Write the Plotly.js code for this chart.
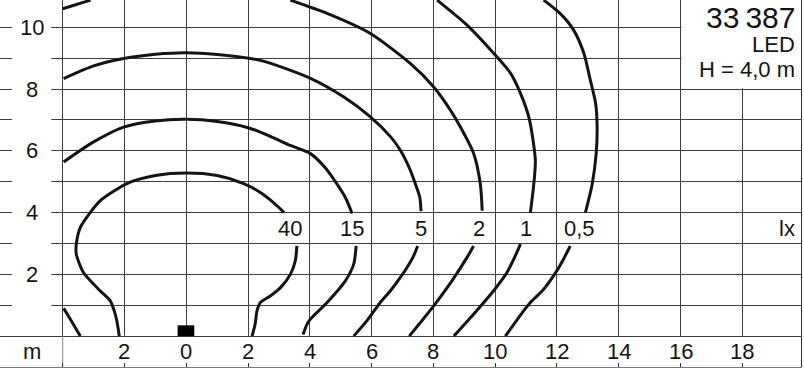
<!DOCTYPE html>
<html><head><meta charset="utf-8">
<script src="https://cdn.plot.ly/plotly-3.0.1.min.js"></script>
<style>html,body{margin:0;padding:0;background:#fff;overflow:hidden}</style>
</head><body><div id="chart" style="width:804px;height:368px;"></div>
<script>
// Isolux curves (x, y in metres); null = break (label gap / leaves chart)
const lux40X = [-2.17,-2.23,-2.30,-2.46,-2.79,-3.33,-3.56,-3.56,-3.43,-3.11,-2.79,-1.92,-1.0,0,1.0,1.86,2.40,2.85,3.17,null,3.58,3.53,3.37,3.05,2.72,2.40,2.29,2.23,2.13];
const lux40Y = [0.0,0.39,0.71,1.14,1.47,2.06,2.65,2.98,3.52,4.0,4.38,4.94,5.2,5.28,5.2,4.94,4.65,4.3,4.0,null,2.92,2.44,2.0,1.57,1.30,1.09,0.82,0.39,0.0];
const lux15X = [-3.97,-3.70,-3.43,null,-3.97,-3.0,-2.03,-1.0,0,1.0,2.0,2.72,3.3,4.02,4.5,4.88,5.15,5.37,null,5.5,5.42,5.15,4.56,4.02,3.91,3.78];
const lux15Y = [0.9,0.46,0.0,null,5.64,6.29,6.77,6.97,7.02,6.95,6.75,6.47,6.2,5.91,5.45,4.92,4.49,3.97,null,2.92,2.33,1.79,1.09,0.55,0.39,0.05];
const lux5X = [-3.97,-3.0,-2.03,-1.0,0,1.0,2.4,4.02,5.09,5.96,6.61,6.93,7.25,7.42,7.56,7.6,null,7.49,7.36,7.15,6.93,6.61,6.28,5.85,5.42];
const lux5Y = [8.34,8.75,8.99,9.13,9.18,9.12,8.93,8.35,7.75,7.1,6.46,6.02,5.38,4.92,4.49,4.05,null,2.92,2.6,2.23,1.9,1.47,1.09,0.5,0.0];
const lux2X = [-4.0,-3.1,null,3.37,4.56,5.96,7.25,8.01,8.55,8.87,9.3,9.52,9.58,null,9.3,9.09,8.6,8.01,7.58,7.22];
const lux2Y = [10.6,10.88,null,10.88,10.45,9.8,8.83,8.07,7.32,6.78,5.92,4.92,4.06,null,2.92,2.55,1.79,0.98,0.44,0.0];
const lux1X = [8.12,9.09,9.95,10.5,10.82,11.1,11.3,11.25,11.14,null,10.82,10.6,10.38,9.95,9.3,8.66];
const lux1Y = [10.88,10.07,9.16,8.51,7.86,7.05,5.7,4.92,4.0,null,2.98,2.49,2.06,1.47,0.71,0.0];
const lux05X = [11.57,12.1,12.54,12.87,13.08,13.25,13.3,13.27,13.14,12.92,null,12.43,12.21,12.0,11.57,11.14,10.92,10.33];
const lux05Y = [10.88,10.45,9.91,9.16,8.29,7.54,6.78,5.92,4.92,4.0,null,2.92,2.49,2.12,1.52,1.09,0.82,0.0];

const curveLabels = ["40","15","5","2","1","0,5"];
const curveLabelX = [3.37,5.36,7.61,9.46,11.0,12.73];
const unitLabel = "lx";

const xTickVals = [-2,0,2,4,6,8,10,12,14,16,18];
const xTickText = ["2","0","2","4","6","8","10","12","14","16","18"];
const yTickVals = [2,4,6,8,10];
const yTickText = ["2","4","6","8","10"];
const xUnit = "m";

const lampPos = [0];
const infoLines = ["33\u2009387","LED","H = 4,0 m"];

const FONT = "Liberation Sans, Arial, Helvetica, sans-serif";
const INK = "#141414";
const GRID = "#3e3e3e";

const curves = [[lux40X,lux40Y],[lux15X,lux15Y],[lux5X,lux5Y],[lux2X,lux2Y],[lux1X,lux1Y],[lux05X,lux05Y]];
const data = curves.map(c => ({
  x: c[0], y: c[1], type: "scatter", mode: "lines", connectgaps: false,
  line: {color: INK, width: 3, shape: "spline", smoothing: 0.7},
  hoverinfo: "skip", showlegend: false
}));

const X0 = -6.03, X1 = 19.9, Y0 = -1.0, Y1 = 10.885;
const labelRowY = 3.48, xLabelY = -0.5, yLabelX = -5.0;

const annotations = [];
curveLabels.forEach((t,i) => annotations.push({x: curveLabelX[i], y: labelRowY, text: t}));
annotations.push({x: 19.78, y: labelRowY, text: unitLabel, xanchor: "right"});
xTickVals.forEach((v,i) => annotations.push({x: v, y: xLabelY, text: xTickText[i]}));
annotations.push({x: yLabelX, y: xLabelY, text: xUnit});
yTickVals.forEach((v,i) => annotations.push({x: yLabelX, y: v, text: yTickText[i]}));
annotations.push({x: 19.78, y: 10.33, text: infoLines[0], xanchor: "right", font: {size: 30}});
annotations.push({x: 19.78, y: 9.43, text: infoLines[1], xanchor: "right"});
annotations.push({x: 19.78, y: 8.62, text: infoLines[2], xanchor: "right"});
annotations.forEach(a => {
  a.showarrow = false;
  a.xanchor = a.xanchor || "center";
  a.yanchor = "middle";
  a.font = Object.assign({family: FONT, size: 22, color: INK}, a.font || {});
});

const shapes = [
  {type: "rect", layer: "between", x0: X0, x1: X1, y0: Y0, y1: -0.025, fillcolor: "#fff", line: {width: 0}},
  {type: "rect", layer: "between", x0: -5.64, x1: -4.37, y0: 0.03, y1: Y1, fillcolor: "#fff", line: {width: 0}},
  {type: "rect", layer: "between", x0: 16.03, x1: X1, y0: 8.03, y1: Y1, fillcolor: "#fff", line: {width: 0}},
  {type: "line", layer: "between", x0: -4, x1: -4, y0: Y0, y1: 0, line: {color: "#8a8a8a", width: 1}},
  {type: "rect", layer: "above", x0: lampPos[0]-0.28, x1: lampPos[0]+0.26, y0: 0, y1: 0.35, fillcolor: "#000", line: {width: 0}}
];

const layout = {
  width: 804, height: 368,
  margin: {l: 0, r: 3, t: 0, b: 1, pad: 0},
  paper_bgcolor: "#fff", plot_bgcolor: "#fff",
  showlegend: false,
  xaxis: {range: [X0, X1], tickmode: "linear", tick0: 0, dtick: 2, showgrid: true, gridcolor: GRID, gridwidth: 1,
          zeroline: false, showticklabels: false, ticks: "inside", ticklen: 4, tickcolor: "#333",
          showline: true, mirror: true, linecolor: "#777", linewidth: 2, fixedrange: true},
  yaxis: {range: [Y0, Y1], tickmode: "linear", tick0: 0, dtick: 1, showgrid: true, gridcolor: GRID, gridwidth: 1,
          zeroline: false, showticklabels: false, ticks: "",
          showline: true, mirror: true, linecolor: "#333", linewidth: 1, fixedrange: true},
  annotations: annotations,
  shapes: shapes
};

Plotly.newPlot("chart", data, layout, {staticPlot: true, displayModeBar: false});
</script>
</body></html>
